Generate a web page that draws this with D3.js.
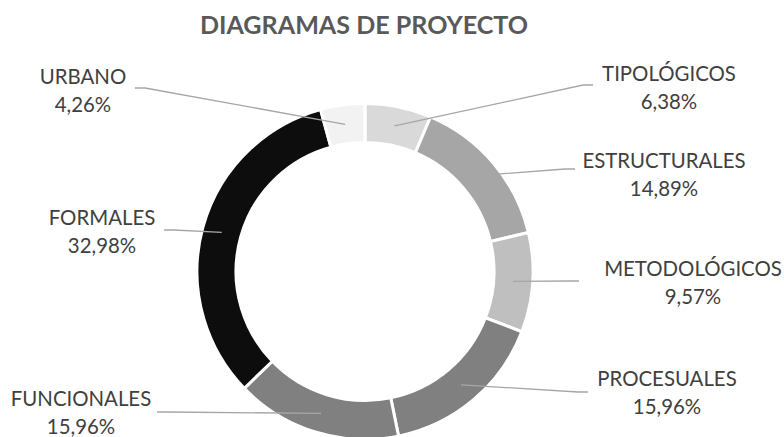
<!DOCTYPE html>
<html>
<head>
<meta charset="utf-8">
<script src="https://cdn.jsdelivr.net/npm/d3@7"></script>
<style>
  html, body { margin: 0; padding: 0; background: #ffffff; }
  svg { display: block; }
</style>
</head>
<body>
<svg id="chart" width="784" height="437"></svg>
<script>
// Share of project diagram types (%)
const categories = ["TIPOLÓGICOS", "ESTRUCTURALES", "METODOLÓGICOS", "PROCESUALES", "FUNCIONALES", "FORMALES", "URBANO"];
const values = [6.38, 14.89, 9.57, 15.96, 15.96, 32.98, 4.26];
const colors = ["#d9d9d9", "#a6a6a6", "#bfbfbf", "#808080", "#808080", "#0d0d0d", "#f2f2f2"];

// Label placement: text centre (x, y of first line) and leader attach point
const labelLayout = {
  "TIPOLÓGICOS":   { x: 669, y: 73,  ax: 593, ay: 85,  side: 1 },
  "ESTRUCTURALES": { x: 664, y: 160, ax: 575, ay: 169, side: 1 },
  "METODOLÓGICOS": { x: 693, y: 268, ax: 579, ay: 281, side: 1 },
  "PROCESUALES":   { x: 667, y: 378, ax: 588, ay: 392, side: 1 },
  "FUNCIONALES":   { x: 81,  y: 398, ax: 157, ay: 412, side: -1 },
  "FORMALES":      { x: 102, y: 217, ax: 164, ay: 230, side: -1 },
  "URBANO":        { x: 83,  y: 76,  ax: 135, ay: 88,  side: -1 }
};

const svg = d3.select("#chart");
const cx = 365, cy = 271.5;
const outerR = 168, innerR = 129;

svg.append("text")
  .attr("x", 364).attr("y", 24)
  .attr("text-anchor", "middle")
  .attr("dominant-baseline", "central")
  .attr("font-family", "Lato, 'Open Sans', sans-serif")
  .attr("font-weight", 700)
  .attr("font-size", 25.1)
  .attr("fill", "#595959")
  .text("DIAGRAMAS DE PROYECTO");

const data = categories.map((c, i) => ({ name: c, value: values[i], color: colors[i] }));

const pie = d3.pie().value(d => d.value).sort(null);
const arc = d3.arc().innerRadius(innerR).outerRadius(outerR);
const arcs = pie(data);

const g = svg.append("g").attr("transform", `translate(${cx},${cy})`);

g.selectAll("path.slice")
  .data(arcs)
  .join("path")
  .attr("class", "slice")
  .attr("d", arc)
  .attr("fill", d => d.data.color)
  .attr("stroke", "#ffffff")
  .attr("stroke-width", 3);

// Leader lines from each label to the slice centroid
const fmt = v => v.toFixed(2).replace(".", ",") + "%";

arcs.forEach(d => {
  const L = labelLayout[d.data.name];
  const c = arc.centroid(d);
  const pts = [
    [L.ax, L.ay],
    [L.ax - L.side * 10, L.ay],
    [c[0] + cx, c[1] + cy]
  ];
  svg.append("path")
    .attr("d", d3.line()(pts))
    .attr("fill", "none")
    .attr("stroke", "#a6a6a6")
    .attr("stroke-width", 1.3);

  const t = svg.append("text")
    .attr("text-anchor", "middle")
    .attr("font-family", "Lato, 'Open Sans', sans-serif")
    .attr("font-size", 20.4)
    .attr("fill", "#404040");
  t.append("tspan").attr("x", L.x).attr("y", L.y).attr("dominant-baseline", "central").text(d.data.name);
  t.append("tspan").attr("x", L.x).attr("y", L.y + 28).attr("dominant-baseline", "central").text(fmt(d.data.value));
});
</script>
</body>
</html>
